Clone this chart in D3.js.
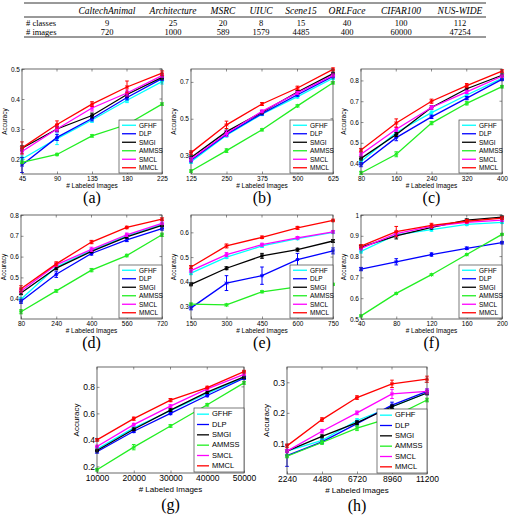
<!DOCTYPE html>
<html>
<head>
<meta charset="utf-8">
<script src="https://cdn.jsdelivr.net/npm/d3@7"></script>
<style>
  body { margin: 0; background: #fff; }
  svg text { fill: #000; }
  .tick text { font-family: "Liberation Sans", Arial, sans-serif; }
  .serif { font-family: "Liberation Serif", "Times New Roman", serif; }
</style>
</head>
<body>
<svg id="fig" width="510" height="519"></svg>
<script>
// table
const datasets = ["CaltechAnimal", "Architecture", "MSRC", "UIUC", "Scene15", "ORLFace", "CIFAR100", "NUS-WIDE"];
const numClasses = [9, 25, 20, 8, 15, 40, 100, 112];
const numImages = [720, 1000, 589, 1579, 4485, 400, 60000, 47254];

const methods = ["GFHF", "DLP", "SMGI", "AMMSS", "SMCL", "MMCL"];
const colors = ["#00ffff", "#0000ff", "#000000", "#22ee22", "#ff00ff", "#ff0000"];

// (a) CaltechAnimal
const xA = [45, 90, 135, 180, 225];
const yA = [
    [0.200, 0.268, 0.330, 0.396, 0.458],
    [0.180, 0.272, 0.335, 0.405, 0.468],
    [0.236, 0.300, 0.345, 0.415, 0.472],
    [0.189, 0.215, 0.277, 0.315, 0.383],
    [0.225, 0.300, 0.370, 0.420, 0.478],
    [0.237, 0.315, 0.383, 0.440, 0.486]];
const eA = [
    [0.010, 0.020, 0.008, 0.008, 0.008],
    [0.025, 0.010, 0.008, 0.008, 0.006],
    [0.008, 0.008, 0.008, 0.008, 0.006],
    [0.004, 0.004, 0.004, 0.004, 0.004],
    [0.008, 0.010, 0.010, 0.010, 0.006],
    [0.020, 0.012, 0.008, 0.020, 0.008]];

// (b) Architecture
const xB = [125, 250, 375, 500, 625];
const yB = [
    [0.267, 0.410, 0.525, 0.620, 0.720],
    [0.275, 0.415, 0.528, 0.630, 0.730],
    [0.290, 0.430, 0.535, 0.645, 0.745],
    [0.216, 0.327, 0.440, 0.570, 0.695],
    [0.280, 0.420, 0.540, 0.640, 0.735],
    [0.316, 0.467, 0.580, 0.667, 0.768]];
const eB = [
    [0.010, 0.010, 0.008, 0.008, 0.008],
    [0.010, 0.010, 0.008, 0.008, 0.008],
    [0.008, 0.008, 0.008, 0.008, 0.008],
    [0.006, 0.010, 0.006, 0.006, 0.006],
    [0.010, 0.015, 0.008, 0.008, 0.008],
    [0.010, 0.020, 0.008, 0.010, 0.008]];

// (c) MSRC
const xC = [80, 160, 240, 320, 400];
const yC = [
    [0.410, 0.550, 0.645, 0.730, 0.810],
    [0.395, 0.525, 0.625, 0.715, 0.805],
    [0.425, 0.540, 0.670, 0.760, 0.825],
    [0.355, 0.445, 0.595, 0.690, 0.770],
    [0.445, 0.565, 0.670, 0.745, 0.820],
    [0.465, 0.595, 0.700, 0.775, 0.845]];
const eC = [
    [0.008, 0.010, 0.008, 0.008, 0.006],
    [0.010, 0.015, 0.008, 0.008, 0.006],
    [0.008, 0.010, 0.008, 0.008, 0.006],
    [0.008, 0.012, 0.008, 0.008, 0.006],
    [0.008, 0.010, 0.008, 0.008, 0.006],
    [0.008, 0.020, 0.010, 0.010, 0.006]];

// (d) UIUC
const xD = [80, 240, 400, 560, 720];
const yD = [
    [0.395, 0.550, 0.630, 0.700, 0.755],
    [0.385, 0.515, 0.615, 0.680, 0.735],
    [0.425, 0.545, 0.625, 0.695, 0.750],
    [0.335, 0.435, 0.535, 0.605, 0.705],
    [0.435, 0.560, 0.635, 0.705, 0.760],
    [0.445, 0.565, 0.670, 0.740, 0.780]];
const eD = [
    [0.008, 0.008, 0.008, 0.006, 0.006],
    [0.010, 0.015, 0.008, 0.008, 0.008],
    [0.008, 0.008, 0.006, 0.006, 0.006],
    [0.010, 0.006, 0.008, 0.006, 0.008],
    [0.008, 0.008, 0.010, 0.008, 0.006],
    [0.015, 0.010, 0.008, 0.006, 0.006]];

// (e) Scene15
const xE = [150, 300, 450, 600, 750];
const yE = [
    [0.435, 0.500, 0.545, 0.575, 0.600],
    [0.295, 0.395, 0.425, 0.490, 0.525],
    [0.390, 0.455, 0.505, 0.530, 0.565],
    [0.310, 0.307, 0.360, 0.380, 0.390],
    [0.445, 0.510, 0.550, 0.578, 0.602],
    [0.460, 0.545, 0.580, 0.618, 0.648]];
const eE = [
    [0.006, 0.006, 0.006, 0.005, 0.005],
    [0.008, 0.030, 0.035, 0.025, 0.012],
    [0.006, 0.006, 0.010, 0.006, 0.006],
    [0.004, 0.004, 0.004, 0.004, 0.004],
    [0.006, 0.008, 0.006, 0.005, 0.005],
    [0.006, 0.008, 0.005, 0.006, 0.005]];

// (f) ORLFace
const xF = [40, 80, 120, 160, 200];
const yF = [
    [0.825, 0.905, 0.930, 0.955, 0.965],
    [0.740, 0.775, 0.810, 0.840, 0.867],
    [0.845, 0.900, 0.940, 0.975, 0.990],
    [0.515, 0.623, 0.713, 0.810, 0.907],
    [0.840, 0.910, 0.945, 0.965, 0.975],
    [0.850, 0.920, 0.950, 0.970, 0.985]];
const eF = [
    [0.008, 0.010, 0.008, 0.006, 0.006],
    [0.008, 0.015, 0.008, 0.006, 0.006],
    [0.008, 0.015, 0.008, 0.006, 0.004],
    [0.004, 0.004, 0.004, 0.004, 0.004],
    [0.008, 0.012, 0.008, 0.006, 0.006],
    [0.008, 0.025, 0.010, 0.008, 0.006]];

// (g) CIFAR100
const xG = [10000, 20000, 30000, 40000, 50000];
const yG = [
    [0.330, 0.490, 0.620, 0.750, 0.870],
    [0.310, 0.465, 0.600, 0.735, 0.865],
    [0.320, 0.480, 0.625, 0.760, 0.875],
    [0.175, 0.345, 0.505, 0.665, 0.830],
    [0.350, 0.515, 0.655, 0.785, 0.895],
    [0.400, 0.560, 0.700, 0.795, 0.915]];
const eG = [
    [0.010, 0.010, 0.010, 0.010, 0.010],
    [0.010, 0.010, 0.010, 0.010, 0.010],
    [0.010, 0.010, 0.010, 0.010, 0.010],
    [0.010, 0.020, 0.010, 0.010, 0.010],
    [0.010, 0.010, 0.010, 0.010, 0.010],
    [0.010, 0.012, 0.012, 0.010, 0.010]];

// (h) NUS-WIDE
const xH = [2240, 4480, 6720, 8960, 11200];
const yH = [
    [0.075, 0.110, 0.175, 0.220, 0.265],
    [0.060, 0.105, 0.165, 0.225, 0.270],
    [0.075, 0.123, 0.168, 0.220, 0.265],
    [0.058, 0.103, 0.150, 0.185, 0.242],
    [0.075, 0.140, 0.200, 0.262, 0.270],
    [0.092, 0.178, 0.250, 0.295, 0.310]];
const eH = [
    [0.005, 0.005, 0.006, 0.006, 0.006],
    [0.035, 0.006, 0.008, 0.010, 0.008],
    [0.005, 0.005, 0.006, 0.006, 0.006],
    [0.005, 0.006, 0.008, 0.006, 0.006],
    [0.005, 0.006, 0.006, 0.015, 0.008],
    [0.006, 0.006, 0.006, 0.012, 0.010]];

const panels = [
    {tag: "(a)", x: xA, y: yA, e: eA, dom: [0.15, 0.5], ticks: [0.2, 0.3, 0.4, 0.5], box: [22, 69, 162, 174], big: false},
    {tag: "(b)", x: xB, y: yB, e: eB, dom: [0.2, 0.77], ticks: [0.3, 0.5, 0.7], box: [191, 69, 333, 174], big: false},
    {tag: "(c)", x: xC, y: yC, e: eC, dom: [0.35, 0.855], ticks: [0.4, 0.5, 0.6, 0.7, 0.8], box: [361, 69, 502, 174], big: false},
    {tag: "(d)", x: xD, y: yD, e: eD, dom: [0.3, 0.8], ticks: [0.4, 0.5, 0.6, 0.7, 0.8], box: [21, 215, 162, 319], big: false},
    {tag: "(e)", x: xE, y: yE, e: eE, dom: [0.25, 0.67], ticks: [0.3, 0.4, 0.5, 0.6], box: [191, 215, 333, 319], big: false},
    {tag: "(f)", x: xF, y: yF, e: eF, dom: [0.5, 1.0], ticks: [0.5, 0.6, 0.7, 0.8, 0.9, 1.0], box: [361, 215, 502, 319], big: false},
    {tag: "(g)", x: xG, y: yG, e: eG, dom: [0.15, 0.95], ticks: [0.2, 0.4, 0.6, 0.8], box: [97, 367, 244, 473], big: true},
    {tag: "(h)", x: xH, y: yH, e: eH, dom: [0.0, 0.35], ticks: [0.1, 0.2, 0.3], box: [287, 367, 427, 474], big: true}
];

const svg = d3.select("#fig");

// ---- table ----
const tbl = svg.append("g").attr("class", "serif").style("font-size", "8.5px");
const colX = [107, 173, 223, 261, 301, 347, 401, 460];
[3, 17, 37].forEach(y => {
    tbl.append("line")
        .attr("x1", 24).attr("x2", 486)
        .attr("y1", y).attr("y2", y)
        .attr("stroke", "#000").attr("stroke-width", 0.8);
});
tbl.selectAll(".hd").data(datasets).enter().append("text")
    .attr("x", (d, i) => colX[i]).attr("y", 13.5)
    .attr("text-anchor", "middle").style("font-style", "italic").style("font-size", "9.5px")
    .text(d => d);
[["# classes", numClasses, 25.5], ["# images", numImages, 34.5]].forEach(row => {
    tbl.append("text").attr("x", 26).attr("y", row[2]).text(row[0]);
    tbl.selectAll(null).data(row[1]).enter().append("text")
        .attr("x", (d, i) => colX[i]).attr("y", row[2])
        .attr("text-anchor", "middle").text(d => d);
});

// ---- subplots ----
const fmt = v => String(+v.toFixed(2));

panels.forEach(p => {
    const [l, t, r, b] = p.box;
    const fs = p.big ? 8.5 : 6.5;
    const xs = d3.scaleLinear().domain([p.x[0], p.x[p.x.length - 1]]).range([l, r]);
    const ys = d3.scaleLinear().domain(p.dom).range([b, t]);
    const g = svg.append("g");

    g.append("rect").attr("x", l).attr("y", t).attr("width", r - l).attr("height", b - t)
        .attr("fill", "#fff");

    const xAxis = g.append("g").attr("class", "tick")
        .attr("transform", `translate(0 ${b})`)
        .call(d3.axisBottom(xs).tickValues(p.x).tickSize(-2.5).tickPadding(2).tickFormat(d => d));
    const yAxis = g.append("g").attr("class", "tick")
        .attr("transform", `translate(${l} 0)`)
        .call(d3.axisLeft(ys).tickValues(p.ticks).tickSize(-2.5).tickPadding(2).tickFormat(fmt));
    [xAxis, yAxis].forEach(ax => {
        ax.select(".domain").remove();
        ax.selectAll("line").attr("stroke", "#444").attr("stroke-width", 0.6);
        ax.selectAll("text").style("font-size", fs + "px")
            .style("font-family", "'Liberation Sans', Arial, sans-serif").attr("fill", "#000");
    });
    // mirrored ticks on top and right
    g.selectAll(null).data(p.x).enter().append("line")
        .attr("x1", d => xs(d)).attr("x2", d => xs(d)).attr("y1", t).attr("y2", t + 2.5)
        .attr("stroke", "#444").attr("stroke-width", 0.6);
    g.selectAll(null).data(p.ticks).enter().append("line")
        .attr("y1", d => ys(d)).attr("y2", d => ys(d)).attr("x1", r).attr("x2", r - 2.5)
        .attr("stroke", "#444").attr("stroke-width", 0.6);

    const line = d3.line().x(d => xs(d[0])).y(d => ys(d[1]));

    p.y.forEach((series, k) => {
        const pts = series.map((v, i) => [p.x[i], v, p.e[k][i]]);
        const sg = g.append("g").attr("stroke", colors[k]).attr("fill", "none");
        sg.append("path").attr("d", line(pts)).attr("stroke-width", 1.3);
        pts.forEach(d => {
            const cx = xs(d[0]);
            const y0 = ys(d[1] - d[2]), y1 = ys(d[1] + d[2]);
            sg.append("line").attr("x1", cx).attr("x2", cx).attr("y1", y0).attr("y2", y1).attr("stroke-width", 1);
            sg.append("line").attr("x1", cx - 1.8).attr("x2", cx + 1.8).attr("y1", y0).attr("y2", y0).attr("stroke-width", 1);
            sg.append("line").attr("x1", cx - 1.8).attr("x2", cx + 1.8).attr("y1", y1).attr("y2", y1).attr("stroke-width", 1);
            // star marker
            const yy = ys(d[1]);
            sg.append("path")
                .attr("d", `M${cx - 2},${yy}H${cx + 2}M${cx},${yy - 2}V${yy + 2}M${cx - 1.5},${yy - 1.5}L${cx + 1.5},${yy + 1.5}M${cx - 1.5},${yy + 1.5}L${cx + 1.5},${yy - 1.5}`)
                .attr("stroke-width", 1);
        });
    });

    // box
    g.append("rect").attr("x", l).attr("y", t).attr("width", r - l).attr("height", b - t)
        .attr("fill", "none").attr("stroke", "#444").attr("stroke-width", 0.8);

    // legend
    const lw = p.big ? 50 : 43, lh = p.big ? 64 : 53;
    const lx = r - lw, ly = b - lh - 1;
    const rowH = (lh - 2) / methods.length;
    const lg = g.append("g");
    lg.append("rect").attr("x", lx).attr("y", ly).attr("width", lw).attr("height", lh)
        .attr("fill", "#fff").attr("stroke", "#444").attr("stroke-width", 0.7);
    methods.forEach((m, k) => {
        const yy = ly + 1 + rowH * (k + 0.5);
        lg.append("line").attr("x1", lx + 3).attr("x2", lx + (p.big ? 15 : 17)).attr("y1", yy).attr("y2", yy)
            .attr("stroke", colors[k]).attr("stroke-width", 1.3);
        lg.append("text").attr("x", lx + (p.big ? 18 : 20)).attr("y", yy + 2.3)
            .style("font-family", "'Liberation Sans', Arial, sans-serif")
            .style("font-size", (p.big ? 7.5 : 6.5) + "px").text(m);
    });

    // axis labels
    g.append("text").attr("x", (l + r) / 2).attr("y", b + (p.big ? 19 : 14))
        .attr("text-anchor", "middle")
        .style("font-family", "'Liberation Sans', Arial, sans-serif")
        .style("font-size", (p.big ? 8 : 6.5) + "px").text("# Labeled Images");
    g.append("text")
        .attr("transform", `translate(${l - (p.big ? 18 : 15)} ${(t + b) / 2}) rotate(-90)`)
        .attr("text-anchor", "middle")
        .style("font-family", "'Liberation Sans', Arial, sans-serif")
        .style("font-size", (p.big ? 8 : 6.5) + "px").text("Accuracy");
    g.append("text").attr("class", "serif").attr("x", (l + r) / 2).attr("y", b + (p.big ? 37 : 29))
        .attr("text-anchor", "middle").style("font-size", "16px").text(p.tag);
});
</script>
</body>
</html>
